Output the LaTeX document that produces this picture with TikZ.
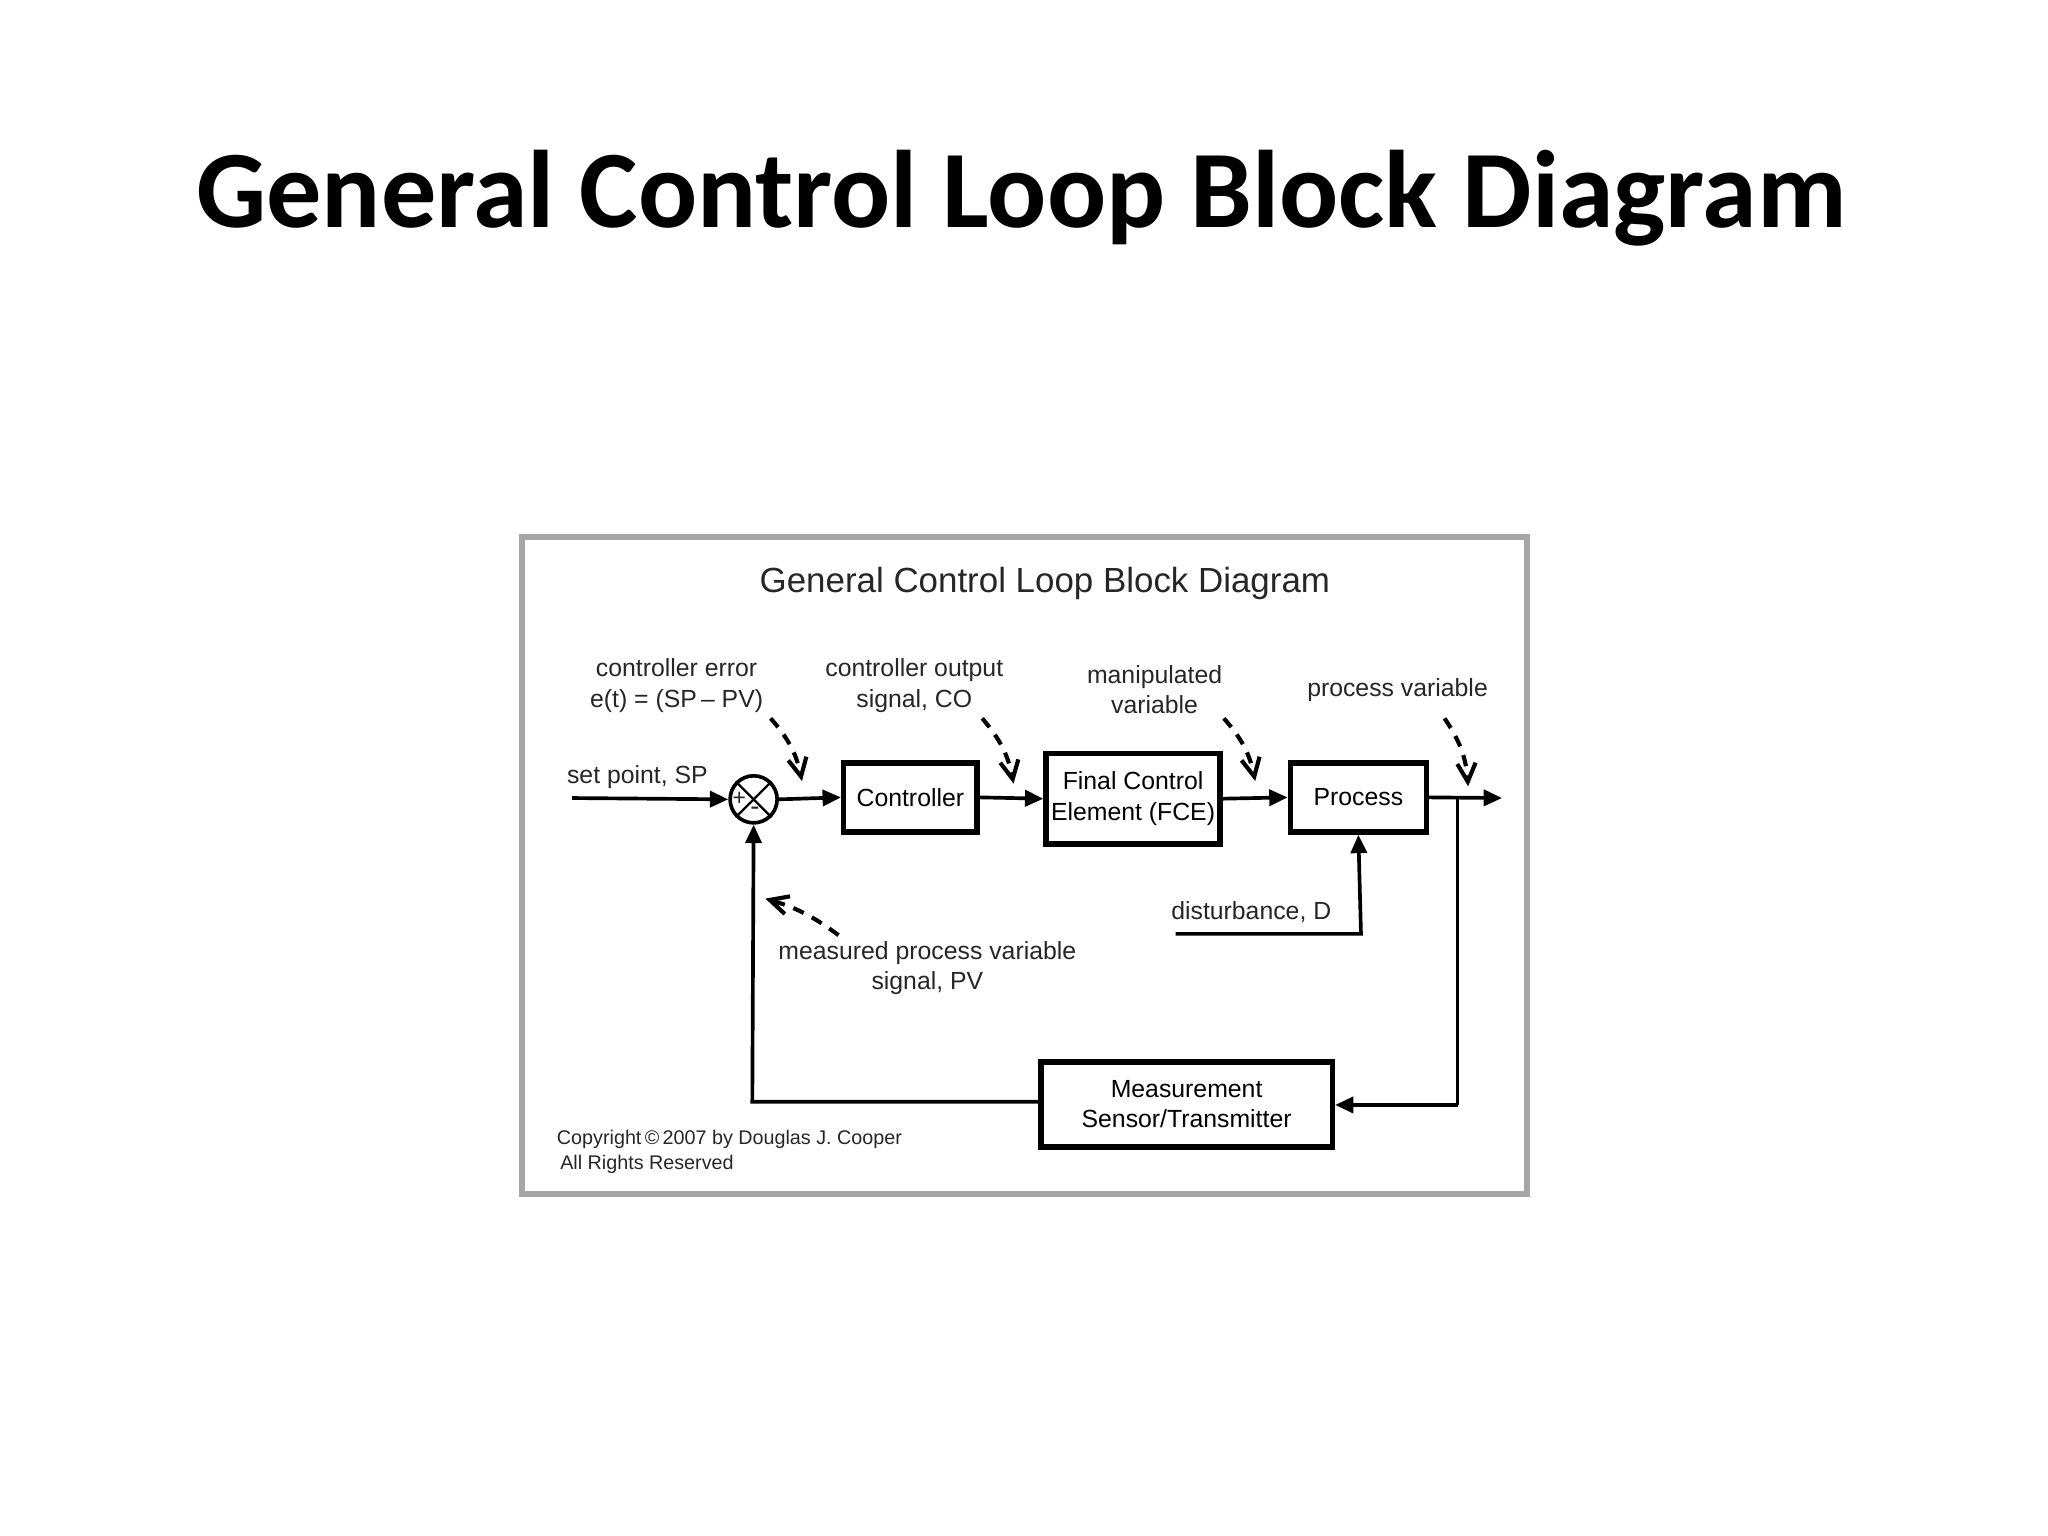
\documentclass[tikz,border=0pt]{standalone}
\usepackage{fontspec}
\setmainfont{Liberation Sans}
\newfontfamily\titlefont{Carlito}
\usetikzlibrary{arrows.meta}
\begin{document}
\begin{tikzpicture}[x=0.01cm,y=-0.01cm,
  blk/.style={draw,line width=1.2pt,inner sep=0,font=\fontsize{5.4}{6.6}\selectfont,align=center},
  lbl/.style={font=\fontsize{5.4}{6.6}\selectfont,align=center,text=black!85},
  sig/.style={line width=0.8pt,-{Triangle[length=4pt,width=3.5pt]}},
  dsh/.style={line width=0.9pt,dash pattern=on 2.5pt off 2pt,-{Straight Barb[length=4pt,width=4pt]}}]
\useasboundingbox (0,0) rectangle (1568,1176);
\node[font=\titlefont\bfseries\fontsize{24}{30}\selectfont] (title) at (782,152) {General Control Loop Block Diagram};
\draw[line width=1.3pt,black!35] (400,411) rectangle (1169,914);
\node[lbl,font=\fontsize{7.6}{9}\selectfont] (itl) at (800,447) {General Control Loop Block Diagram};
% blocks
\node[draw,circle,line width=0.8pt,minimum size=0.36cm,inner sep=0] (sum) at (577,612) {};
\draw[line width=0.5pt] (sum.north west) -- (sum.south east) (sum.north east) -- (sum.south west);
\node[lbl,font=\fontsize{5}{5}\selectfont] (plus) at (566,612) {+};
\node[lbl,font=\fontsize{6}{6}\selectfont] (minus) at (578,621) {-};
\node[blk,minimum width=1.02cm,minimum height=0.53cm] (ctl) at (697,610.5) {Controller};
\node[blk,minimum width=1.33cm,minimum height=0.69cm] (fce) at (867.5,611.5) {Final Control\\Element (FCE)};
\node[blk,minimum width=1.04cm,minimum height=0.53cm] (proc) at (1040,610.5) {Process};
\node[blk,minimum width=2.23cm,minimum height=0.65cm] (meas) at (908.5,845.5) {Measurement\\Sensor/Transmitter};
% coordinates
\coordinate (sp) at (438,611);
\coordinate (out) at (1150,611);
\coordinate (br) at (1116,611);
\coordinate (br2) at (1116,846);
\coordinate (fbc) at (576,843.5);
\coordinate (d0) at (900,715);
\coordinate (d1) at (1042,715);
% signals
\draw[sig] (sp) -- (sum.west);
\draw[sig] (sum.east) -- (ctl.west);
\draw[sig] (ctl.east) -- (fce.west);
\draw[sig] (fce.east) -- (proc.west);
\draw[sig] (proc.east) -- (out);
\draw[line width=0.8pt] (br) -- (br2);
\draw[sig] (br2) -- (meas.east |- br2);
\draw[sig] (meas.west |- fbc) -- (fbc) -- (sum.south);
\draw[sig] (d0) -- (d1) -- (proc.south);
% labels
\node[lbl] (l1) at (518,525) {controller error\\e(t) = (SP\,– PV)};
\node[lbl] (l2) at (700,525) {controller output\\signal, CO};
\node[lbl] (l3) at (884,528) {manipulated\\variable};
\node[lbl] (l4) at (1070,528) {process variable};
\node[lbl] (l5) at (710,741) {measured process variable\\signal, PV};
\node[lbl] (l6) at (488,595) {set point, SP};
\node[lbl] (l7) at (958,698) {disturbance, D};
\node[lbl,align=left,anchor=west,font=\fontsize{4.3}{5.4}\selectfont] (cp) at (414,882) {Copyright\,©\,2007 by Douglas J. Cooper\\\,All Rights Reserved};
% dashed pointers
\coordinate (a1) at (590,550); \coordinate (b1) at (614,598);
\coordinate (a2) at (752,550); \coordinate (b2) at (776,600);
\coordinate (a3) at (937,550); \coordinate (b3) at (961,598);
\coordinate (a4) at (1106,550); \coordinate (b4) at (1124,602);
\coordinate (a5) at (642,716); \coordinate (b5) at (586,688);
\draw[dsh] (a1) to[bend left=15] (b1);
\draw[dsh] (a2) to[bend left=15] (b2);
\draw[dsh] (a3) to[bend left=15] (b3);
\draw[dsh] (a4) to[bend left=15] (b4);
\draw[dsh] (a5) to[bend right=10] (b5);
\end{tikzpicture}
\end{document}
